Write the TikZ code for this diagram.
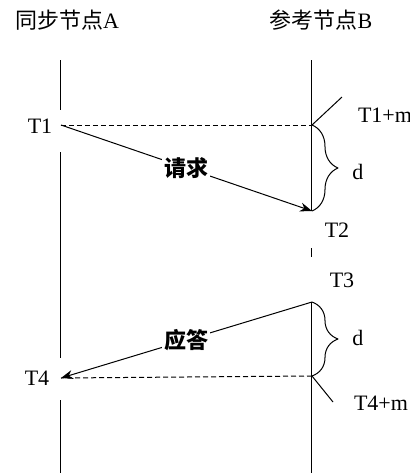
\documentclass[tikz,border=0pt]{standalone}
\usepackage{fontspec}
\setmainfont{Liberation Serif}
\newfontfamily\cjk{Noto Sans CJK SC}
\usetikzlibrary{arrows.meta,decorations.pathreplacing}
\begin{document}
\begin{tikzpicture}[x=0.5pt,y=-0.5pt,line join=round,>={Stealth[length=6pt,width=4.5pt]},line width=0.5pt]
	\tikzset{every node/.style={font=\fontsize{11}{13}\selectfont},
		msg/.style={fill=white,inner sep=1pt,font=\fontsize{11}{13}\selectfont\cjk\bfseries},
		brc/.style={decorate,decoration={brace,amplitude=13pt}}}
	\useasboundingbox (0,0) rectangle (410,473);
	\node (hA) at (67,20) {{\cjk 同步节点}A};
	\node (hB) at (321,20) {{\cjk 参考节点}B};
	% time points
	\coordinate (T1) at (61,125);
	\coordinate (T1m) at (312,125);
	\coordinate (T2) at (312,211);
	\coordinate (T3) at (312,302);
	\coordinate (T4) at (61,378);
	\coordinate (T4m) at (312,376);
	\coordinate (k1) at (342,97);
	\coordinate (k4) at (333,402);
	% time lines
	\draw (61,60)--(61,110) (61,152)--(61,358) (61,400)--(61,473);
	\draw (312,60)--(T2) (312,248)--(312,257) (T3)--(312,473);
	\draw[dashed,dash pattern=on 2.5pt off 1.5pt] (T1)--(T1m);
	\draw[dashed,dash pattern=on 2.5pt off 1.5pt] (T4m)--(T4);
	\draw[->] (T1)--node[msg]{请求}(T2);
	\draw[->] (T3)--node[msg]{应答}(T4);
	\draw[brc] (T1m)--(T2);
	\draw[brc] (T3)--(T4m);
	\draw (T1m)--(k1);
	\draw (T4m)--(k4);
	\node (l1) at (40,126) {T1};
	\node (l1m) at (385,115) {T1+m};
	\node (d1) at (358,172) {d};
	\node (l2) at (337,230) {T2};
	\node (l3) at (342,280) {T3};
	\node (d2) at (358,338) {d};
	\node (l4) at (37,378) {T4};
	\node (l4m) at (381,403) {T4+m};
\end{tikzpicture}
\end{document}
